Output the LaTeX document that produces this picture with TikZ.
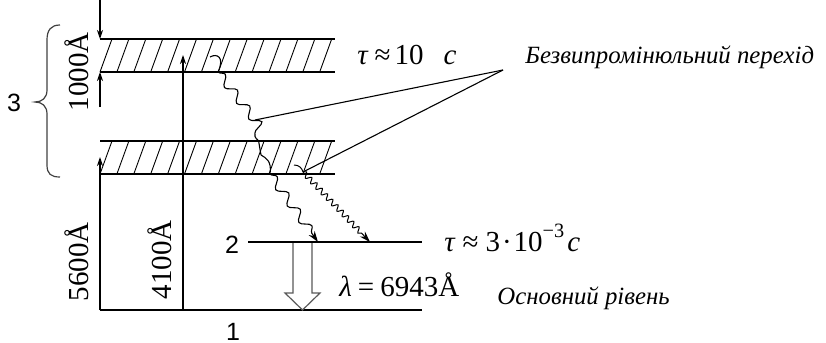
\documentclass[tikz,border=0pt]{standalone}
\usepackage{fontspec}
\setmainfont{Liberation Serif}
\newfontfamily\arialf{Liberation Sans}
\usetikzlibrary{decorations.pathmorphing,arrows.meta}
\begin{document}
\begin{tikzpicture}[x=0.5pt,y=-0.5pt,
  lvl/.style={line width=0.65pt},
  hatchline/.style={line width=0.45pt},
  dimarrow/.style={line width=0.55pt,-{Stealth[length=4.5pt,width=3pt]}},
  wavy/.style={line width=0.55pt,decorate,decoration={snake,segment length=10pt,amplitude=2.2pt,post length=5pt}},
  finewavy/.style={line width=0.5pt,decorate,decoration={snake,segment length=3.8pt,amplitude=1.3pt,post length=5pt}},
  wavetip/.style={-{Stealth[length=5.5pt,width=3.6pt]}},
  lbl/.style={font=\fontsize{14.5}{15}\selectfont,inner sep=0pt},
  itl/.style={font=\fontsize{12.4}{13}\selectfont\itshape,inner sep=0pt},
  sans/.style={font=\fontsize{12.5}{13}\selectfont\arialf,inner sep=0pt},
  leader/.style={line width=0.55pt}]
\useasboundingbox (0,0) rectangle (826,343);
% band coordinates
\coordinate (UTL) at (100,39);  \coordinate (UTR) at (335,39);
\coordinate (UBL) at (100,72);  \coordinate (UBR) at (335,72);
\coordinate (LTL) at (100,141); \coordinate (LTR) at (335,141);
\coordinate (LBL) at (100,174); \coordinate (LBR) at (335,174);
\coordinate (G1L) at (100,310); \coordinate (G1R) at (422,310);
\coordinate (M2L) at (248,242); \coordinate (M2R) at (422,242);
% bands
\draw[lvl] (UTL) -- (UTR); \draw[lvl] (UBL) -- (UBR);
\draw[lvl] (LTL) -- (LTR); \draw[lvl] (LBL) -- (LBR);
\foreach \k in {0,...,13} {
  \draw[hatchline] ({100+16.9*\k},72) -- ({112+16.9*\k},39);
  \draw[hatchline] ({100+16.9*\k},174) -- ({112+16.9*\k},141);
}
% levels
\draw[lvl] (G1L) -- (G1R);
% dimension arrows
\coordinate (DT) at (100,0);
\coordinate (DB) at (100,107);
\coordinate (A56) at (100,157);
\coordinate (B41) at (183,310);
\coordinate (A41) at (183,55);
\draw[dimarrow] (DT) -- (UTL);
\draw[dimarrow] (DB) -- (UBL);
\draw[dimarrow] (G1L) -- (A56);
\draw[dimarrow] (B41) -- (A41);
% brace
\draw[line width=0.6pt,black!75] (60,25) .. controls (51,25) and (47,30) .. (47,40) -- (47,90)
  .. controls (47,98) and (42,102) .. (35,102) .. controls (42,102) and (47,106) .. (47,114)
  -- (47,165) .. controls (47,174) and (51,177) .. (60,177);
% non-radiative transitions
\coordinate (W0) at (210,57);
\coordinate (W1) at (218,72);
\coordinate (W2) at (255,120);
\coordinate (W3) at (261,155);
\coordinate (W4) at (270,174);
\coordinate (W5) at (318,242);
\coordinate (V0) at (294,165);
\coordinate (V1) at (303,172);
\coordinate (V2) at (370,242);
\draw[line width=0.55pt] (W0) .. controls (217,53) and (225,57) .. (W1);
\draw[wavy] (W1) -- (W2) -- (W3);
\draw[line width=0.55pt] (W3) .. controls (266,158) and (272,161) .. (W4);
\draw[wavy,wavetip] (W4) -- (W5);
\draw[line width=0.5pt] (V0) .. controls (299,165) and (302,168) .. (V1);
\draw[finewavy,wavetip] (V1) -- (V2);
% leaders
\coordinate (J) at (503,70);
\draw[leader] (J) -- (W2);
\draw[leader] (J) -- (V1);
% laser transition (hollow arrow)
\draw[line width=0.6pt,black!65,fill=white] (293,242) -- (293,293) -- (285,293) -- (302.5,310) -- (320,293) -- (312,293) -- (312,242);
\draw[lvl] (M2L) -- (M2R);
% labels
\node[sans] (n3) at (14,103) {3};
\node[lbl,rotate=90] (d1000) at (77,72) {1000Å};
\node[lbl,rotate=90] (d5600) at (77,262) {5600Å};
\node[lbl,rotate=90] (d4100) at (160,260) {4100Å};
\node[lbl,anchor=west] (tau1) at (357,55) {\textit{τ}\kern3pt≈\kern2pt10\kern10pt\textit{c}};
\node[itl,anchor=west] (bez) at (525,57) {Безвипромінюльний перехід};
\node[sans] (n2) at (232,245) {2};
\node[sans] (n1) at (233,332) {1};
\node[lbl,anchor=west] (tau2) at (444,238) {\textit{τ}\kern3.5pt≈\kern3.5pt3\kern1pt·\kern1pt10\raisebox{1.5pt}{\textsuperscript{−3}}\kern1pt\textit{c}};
\node[lbl,anchor=west] (lam) at (339,285) {\textit{λ}\kern3pt=\kern3pt6943Å};
\node[itl,anchor=west] (osn) at (497,298) {Основний рівень};
\end{tikzpicture}
\end{document}
